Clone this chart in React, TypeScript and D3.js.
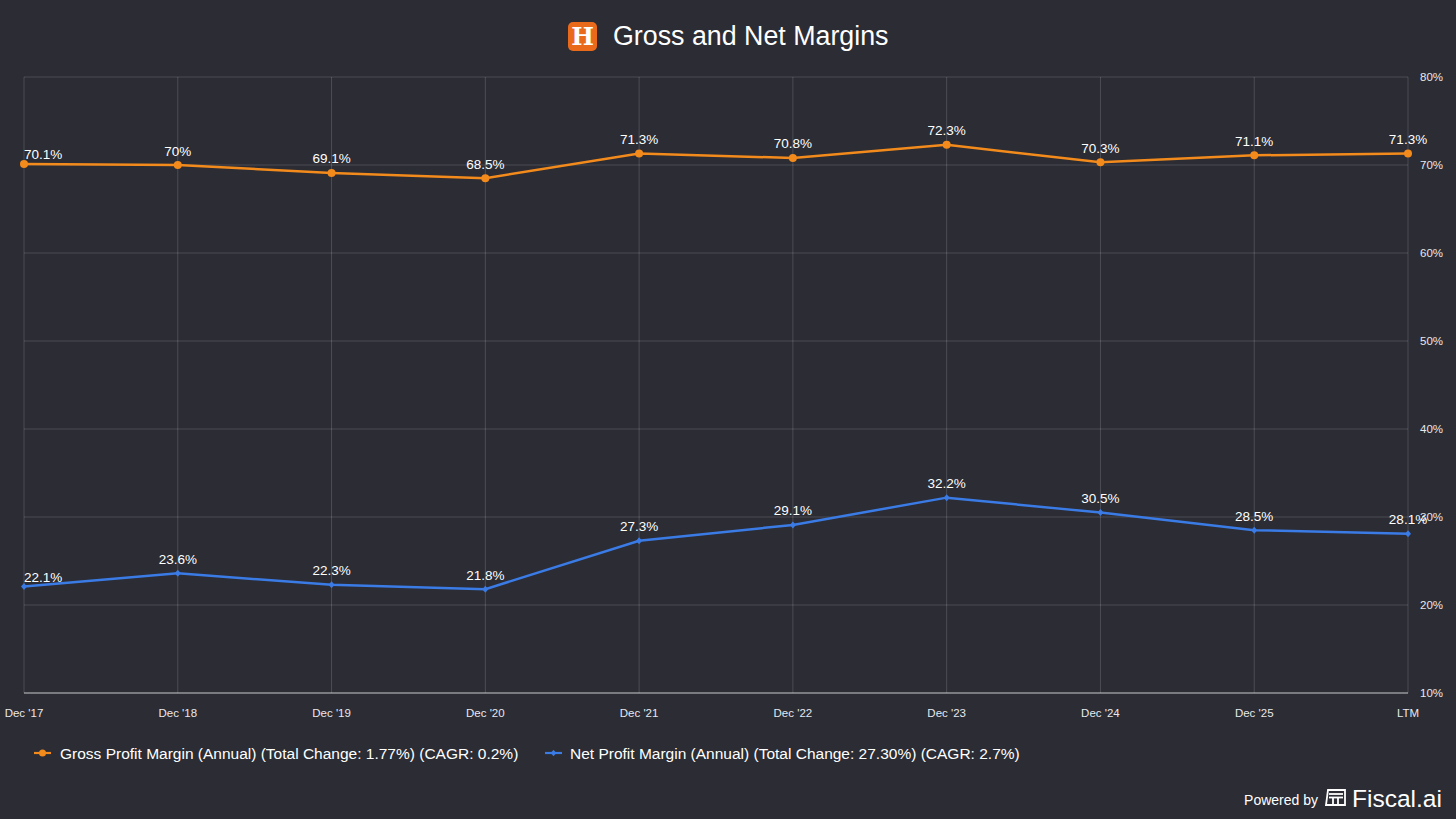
import * as d3 from 'd3'

const periods = ["Dec '17", "Dec '18", "Dec '19", "Dec '20", "Dec '21", "Dec '22", "Dec '23", "Dec '24", "Dec '25", 'LTM']
const grossMargin = [70.1, 70, 69.1, 68.5, 71.3, 70.8, 72.3, 70.3, 71.1, 71.3]
const netMargin = [22.1, 23.6, 22.3, 21.8, 27.3, 29.1, 32.2, 30.5, 28.5, 28.1]
const yTicks = [10, 20, 30, 40, 50, 60, 70, 80]
const legendLabels = [
  'Gross Profit Margin (Annual) (Total Change: 1.77%) (CAGR: 0.2%)',
  'Net Profit Margin (Annual) (Total Change: 27.30%) (CAGR: 2.7%)',
]

const width = 1456
const height = 819
const margin = { top: 77, right: 48, bottom: 126, left: 24 }
const bg = '#2b2c34'
const orange = '#f28a1c'
const blue = '#3a7be6'
const font = '"Liberation Sans", Arial, Helvetica, sans-serif'

function formatLabel(value: number): string {
  return `${value}%`
}

export default function App() {
  const x = d3
    .scalePoint<string>()
    .domain(periods)
    .range([margin.left, width - margin.right])
  const y = d3
    .scaleLinear()
    .domain([10, 80])
    .range([height - margin.bottom, margin.top])

  const series = [
    { key: 'gross', values: grossMargin, color: orange, marker: 'circle' },
    { key: 'net', values: netMargin, color: blue, marker: 'diamond' },
  ]

  const line = d3
    .line<number>()
    .x((_, i) => x(periods[i]) ?? 0)
    .y((v) => y(v))

  return (
    <div style={{ position: 'absolute', left: 0, top: 0, width, height, background: bg }}>
      <svg width={width} height={height} style={{ display: 'block', fontFamily: font }}>
        <rect x={0} y={0} width={width} height={height} fill={bg} />

        {/* title */}
        <rect x={568} y={22} width={29} height={29} rx={5} fill="#ea6a1c" />
        <text
          x={582.5}
          y={45}
          textAnchor="middle"
          fontSize="24"
          fontWeight="bold"
          fontFamily='"DejaVu Serif", "Liberation Serif", serif'
          fill="#ffffff"
        >
          H
        </text>
        <text x={613} y={45} fontSize="26.8" fill="#ffffff">
          Gross and Net Margins
        </text>

        {/* grid */}
        {yTicks.map((tick) => (
          <g key={tick}>
            <line
              x1={margin.left}
              x2={width - margin.right}
              y1={y(tick)}
              y2={y(tick)}
              stroke={tick === 10 ? 'rgba(255,255,255,0.75)' : 'rgba(255,255,255,0.16)'}
              strokeWidth={1}
            />
            <text x={width - margin.right + 12} y={y(tick) + 4} fontSize="11.5" fill="#e8e8ec">
              {`${tick}%`}
            </text>
          </g>
        ))}
        {periods.map((p) => (
          <g key={p}>
            <line
              x1={x(p)}
              x2={x(p)}
              y1={margin.top}
              y2={height - margin.bottom}
              stroke="rgba(255,255,255,0.16)"
            />
            <text x={x(p)} y={height - margin.bottom + 24} textAnchor="middle" fontSize="11.5" fill="#e8e8ec">
              {p}
            </text>
          </g>
        ))}

        {/* series */}
        {series.map((s) => (
          <g key={s.key}>
            <path d={line(s.values) ?? ''} fill="none" stroke={s.color} strokeWidth={2.5} />
            {s.values.map((v, i) => {
              const cx = x(periods[i]) ?? 0
              const cy = y(v)
              return s.marker === 'circle' ? (
                <circle key={i} cx={cx} cy={cy} r={4} fill={s.color} />
              ) : (
                <path key={i} d={`M${cx},${cy - 3.5}L${cx + 3},${cy}L${cx},${cy + 3.5}L${cx - 3},${cy}Z`} fill={s.color} />
              )
            })}
            {s.values.map((v, i) => {
              const cx = x(periods[i]) ?? 0
              const first = i === 0
              return (
                <text
                  key={`l${i}`}
                  x={cx}
                  y={y(v) - (first ? 5 : 9.5)}
                  textAnchor={first ? 'start' : 'middle'}
                  fontSize="13.5"
                  fill="#ffffff"
                >
                  {formatLabel(v)}
                </text>
              )
            })}
          </g>
        ))}

        {/* legend */}
        <g transform="translate(34,753)">
          <line x1={0} x2={17} y1={0} y2={0} stroke={orange} strokeWidth={2.2} />
          <circle cx={8.5} cy={0} r={3.5} fill={orange} />
          <text x={26} y={5.5} fontSize="15.5" fill="#ffffff">
            {legendLabels[0]}
          </text>
        </g>
        <g transform="translate(545,753)">
          <line x1={0} x2={17} y1={0} y2={0} stroke={blue} strokeWidth={2.2} />
          <path d="M8.5,-3.2L11.3,0L8.5,3.2L5.7,0Z" fill={blue} />
          <text x={25} y={5.5} fontSize="15.5" fill="#ffffff">
            {legendLabels[1]}
          </text>
        </g>

        {/* footer */}
        <text x={1318} y={805} textAnchor="end" fontSize="14" fill="#ffffff">
          Powered by
        </text>
        <g transform="translate(1325,789)" fill="none" stroke="#ffffff" strokeWidth={1.8}>
          <path d="M3,1 H20 V16 H1 Z" />
          <line x1={4} x2={18} y1={5} y2={5} />
          <line x1={4} x2={18} y1={8.5} y2={8.5} />
          <line x1={8} x2={8} y1={9} y2={15} />
          <line x1={13} x2={13} y1={9} y2={15} />
        </g>
        <text x={1352} y={807} fontSize="24.5" fill="#ffffff">
          Fiscal.ai
        </text>
      </svg>
    </div>
  )
}
